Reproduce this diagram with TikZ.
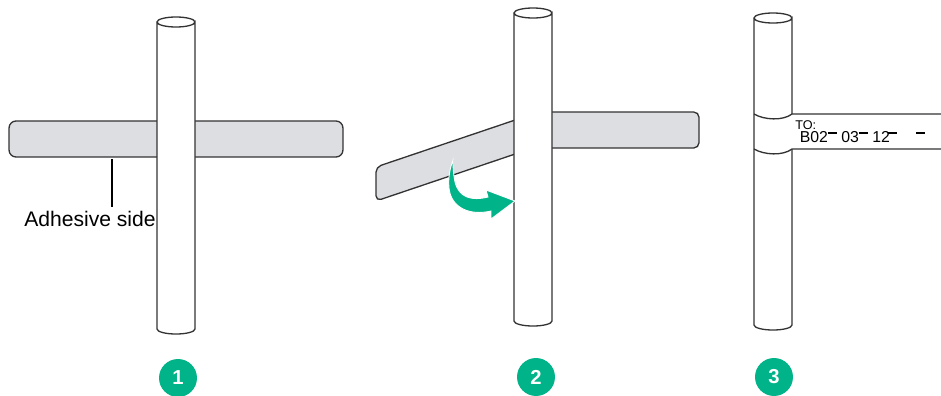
\documentclass[tikz,border=0pt]{standalone}
\usepackage{fontspec}
\setmainfont{Liberation Sans}
\usetikzlibrary{positioning}
\usepackage{xcolor}
\definecolor{tapegray}{HTML}{DDDEE2}
\definecolor{stepgreen}{HTML}{00B388}

\begin{document}
\begin{tikzpicture}[
        x=0.02cm, y=-0.02cm,
        outline/.style={draw=black!80, line width=0.75pt},
        tapebox/.style={rectangle, outline, fill=tapegray, rounded corners=4pt, minimum width=6.68cm, minimum height=0.72cm, inner sep=0pt},
        tapeflat/.style={outline, fill=tapegray, rounded corners=3pt},
        cable/.style={outline, fill=white},
        stepnum/.style={circle, fill=stepgreen, text=white, font=\fontsize{11.5pt}{12pt}\selectfont\bfseries, minimum size=0.76cm, inner sep=0pt},
        bigtext/.style={font=\fontsize{12pt}{14pt}\selectfont, inner sep=0pt},
        tagtext/.style={font=\fontsize{9pt}{10pt}\selectfont, inner sep=0pt},
        tagdash/.style={draw=black, line width=0.8pt}
    ]
    \useasboundingbox (0,0) rectangle (941,396);

    % The Tapes
    \node (tape1) [tapebox] at (176,139) {};
    \draw [tapeflat] (540,112) -- (699,112) -- (699,148) -- (540,148) -- cycle;
    \draw [tapeflat] (530,115) -- (376,167) -- (376,201) -- (530,149) -- cycle;

    % The Cables
    \foreach \cx/\ctop/\cbot in {176/22/329, 533/13/321, 773/18/325} {
        \draw [cable] (\cx-19,\ctop) -- (\cx-19,\cbot) arc[start angle=180, end angle=360, x radius=19, y radius=-5]
            -- (\cx+19,\ctop) arc[start angle=0, end angle=-360, x radius=19, y radius=-5];
    }

    % The Wrapped Tape
    \fill [white] (755,115) .. controls (765,121) and (782,120) .. (792,114) -- (941,114) -- (941,149) -- (792,149) .. controls (782,155) and (765,156) .. (755,149) -- cycle;
    \draw [outline] (754,114) .. controls (764,120) and (783,121) .. (792,114) -- (941,114);
    \draw [outline] (754,149) .. controls (764,155) and (783,156) .. (792,149) -- (941,149);

    % The Leader
    \coordinate (leadertop) at (112,159);
    \coordinate (leaderend) at (112,207);
    \draw [black, line width=0.8pt] (leadertop) -- (leaderend);
    \node (adhesive) [bigtext] at (90,219) {Adhesive side};

    % The Green Arrow
    \draw [draw=white, line width=0.5pt, fill=stepgreen] (453,160) .. controls (450,168) and (448,178) .. (449,188)
        .. controls (451,208) and (470,216) .. (491,211) -- (491,219) -- (515,201) -- (486,190) -- (488,197)
        .. controls (472,201) and (459,198) .. (455,182) .. controls (453,172) and (453,166) .. (453,160) -- cycle;

    % The Tag Text
    \node (tagto) [font=\fontsize{7.2pt}{8pt}\selectfont, inner sep=0pt, anchor=west] at (795,125) {TO:};
    \node (tagb) [tagtext, anchor=west] at (799.5,137) {B02};
    \node (tagc) [tagtext, anchor=west] at (841,137) {03};
    \node (tagd) [tagtext, anchor=west] at (872,137) {12};
    \foreach \dx in {828,859,888,916} {
        \draw [tagdash] (\dx,133) -- (\dx+9,133);
    }

    % The Step Numbers
    \node (step1) [stepnum] at (178,378) {1};
    \node (step2) [stepnum] at (536,377) {2};
    \node (step3) [stepnum] at (774,377) {3};

\end{tikzpicture}
\end{document}
